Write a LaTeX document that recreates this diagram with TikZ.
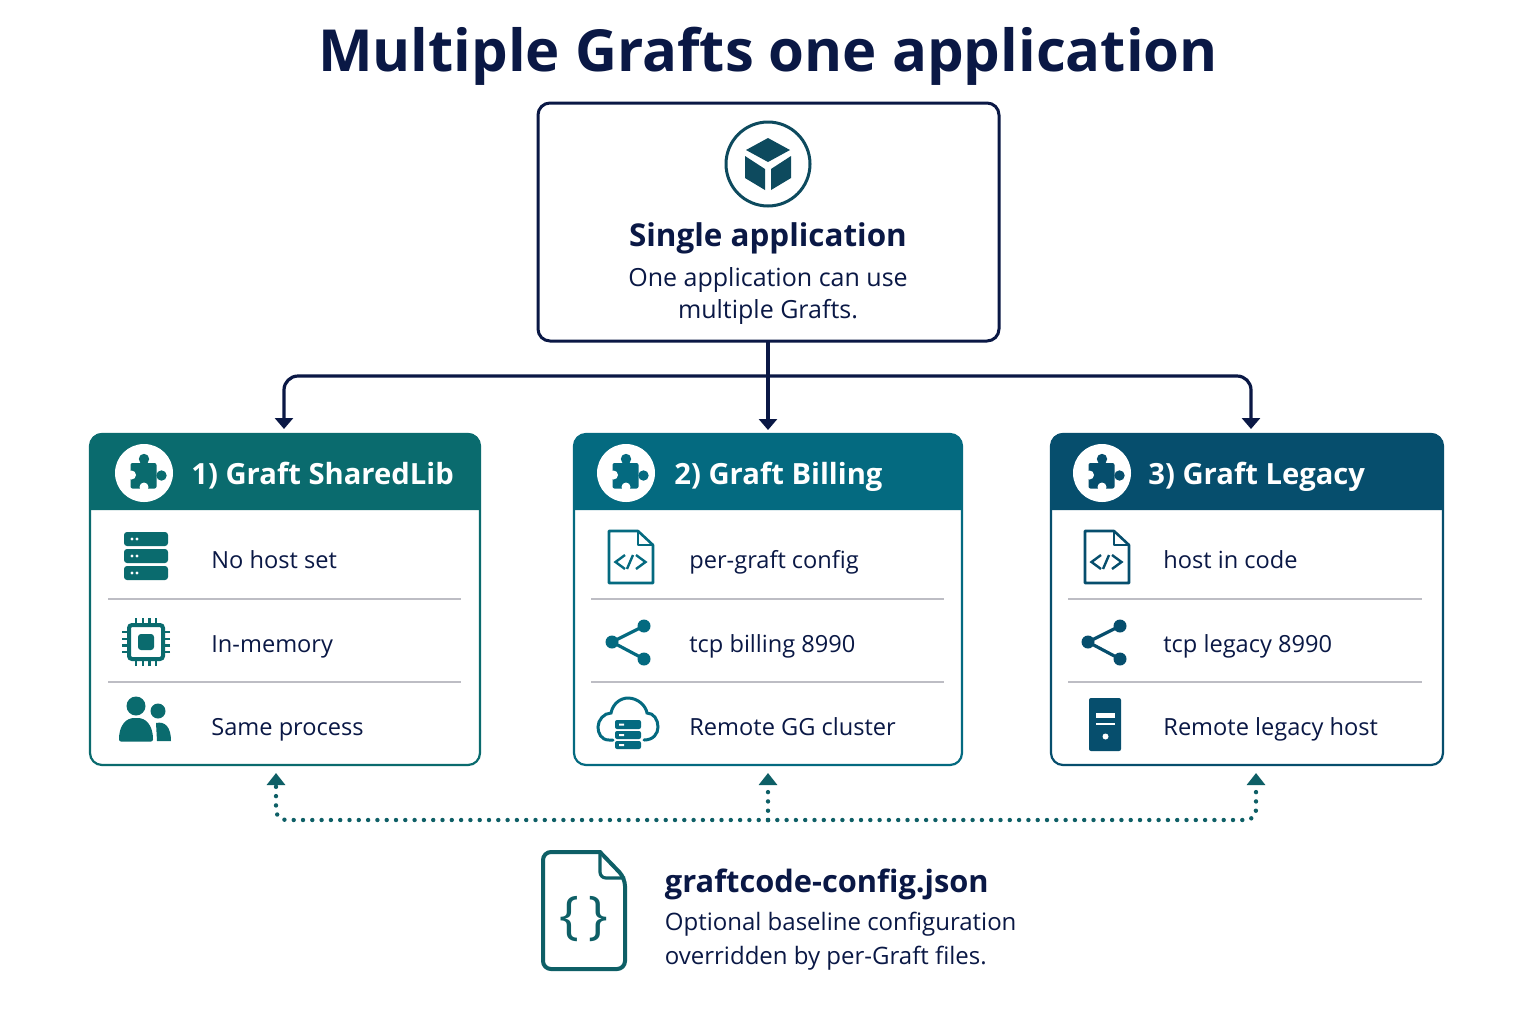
\documentclass[tikz,border=0pt]{standalone}
\usepackage{fontspec}
\setmainfont[Ligatures=NoCommon]{Open Sans}
\usetikzlibrary{arrows.meta,positioning}
\definecolor{navy}{HTML}{0A1845}
\definecolor{tealA}{HTML}{0A6B6E}
\definecolor{tealB}{HTML}{046A80}
\definecolor{tealC}{HTML}{064E6D}
\definecolor{cubeteal}{HTML}{0D4A5E}
\definecolor{jsonteal}{HTML}{0E5F66}
\definecolor{rowgrey}{HTML}{BDBDC4}
\colorlet{accent}{tealA}
\tikzset{
	titletext/.style={text=navy,font=\fontsize{29}{36}\selectfont\bfseries,anchor=base,inner sep=0pt},
	headtext/.style={text=navy,font=\fontsize{15.7}{20}\selectfont\bfseries,anchor=base,inner sep=0pt},
	subtext/.style={text=navy,font=\fontsize{12.5}{16}\selectfont,anchor=base,inner sep=0pt},
	cardtitle/.style={text=white,font=\fontsize{14.6}{19}\selectfont\bfseries,anchor=base west,inner sep=0pt},
	rowtext/.style={text=navy,font=\fontsize{11.8}{16}\selectfont,anchor=base west,inner sep=0pt},
	jsontitle/.style={text=navy,font=\fontsize{15.4}{20}\selectfont\bfseries,anchor=base west,inner sep=0pt},
	jsontext/.style={text=navy,font=\fontsize{12}{16}\selectfont,anchor=base west,inner sep=0pt},
	appbox/.style={draw=navy,line width=1.5pt,fill=white,rounded corners=6pt,minimum width=230.5pt,minimum height=119pt,outer sep=0pt},
	cardbox/.style={draw=#1,line width=1.1pt,fill=white,rounded corners=6pt,minimum height=165.5pt,outer sep=0pt},
	rowline/.style={draw=rowgrey,line width=.8pt},
	applink/.style={draw=navy,line width=1.6pt,rounded corners=7pt},
	apptip/.style={applink,-{Triangle[length=5.5pt,width=9pt]},shorten >=2pt},
	cfglink/.style={draw=jsonteal,line width=2.2pt,line cap=round,dash pattern=on 0pt off 4.65pt,rounded corners=5pt},
	cfgtip/.style={cfglink,-{Triangle[length=6pt,width=9pt]}},
	puzzleicon/.pic={
		\fill[white] (0,0) circle (29);
		\fill[accent,rounded corners=1pt] (-13.5,-10) rectangle (12.5,15.5);
		\fill[accent] (0,-14) circle (5.2);
		\fill[accent] (17.5,2.5) circle (5.2);
		\fill[white] (-12.5,2) circle (4.5);
		\fill[white] (0,14) circle (4.5);
	},
	servericon/.pic={
		\fill[accent,rounded corners=1.5pt] (-22,-24) rectangle (22,-10);
		\fill[accent,rounded corners=1.5pt] (-22,-7) rectangle (22,7);
		\fill[accent,rounded corners=1.5pt] (-22,10) rectangle (22,24);
		\fill[white] (-14,-17) circle (1.6) (-9,-17) circle (1.6) (-14,0) circle (1.6) (-9,0) circle (1.6) (-14,17) circle (1.6) (-9,17) circle (1.6);
	},
	chipicon/.pic={
		\draw[accent,line width=2pt,rounded corners=1.5pt] (-17,-17) rectangle (17,17);
		\fill[accent,rounded corners=1.5pt] (-8,-8) rectangle (8,8);
		\draw[accent,line width=1.2pt] (-10,-24) -- (-10,-17) (-3.3,-24) -- (-3.3,-17) (3.3,-24) -- (3.3,-17) (10,-24) -- (10,-17);
		\draw[accent,line width=1.2pt] (-10,24) -- (-10,17) (-3.3,24) -- (-3.3,17) (3.3,24) -- (3.3,17) (10,24) -- (10,17);
		\draw[accent,line width=1.2pt] (-24,-10) -- (-17,-10) (-24,-3.3) -- (-17,-3.3) (-24,3.3) -- (-17,3.3) (-24,10) -- (-17,10);
		\draw[accent,line width=1.2pt] (24,-10) -- (17,-10) (24,-3.3) -- (17,-3.3) (24,3.3) -- (17,3.3) (24,10) -- (17,10);
	},
	peopleicon/.pic={
		\fill[accent] (13,-10) circle (7.5);
		\fill[accent] (11,2) .. controls (20,0) and (26,6) .. (26,20) -- (12,20) -- cycle;
		\fill[white] (-9,-3) .. controls (2,-3) and (11,4) .. (11,22) -- (-9,22) -- cycle;
		\fill[accent] (-9,-15) circle (9.5);
		\fill[accent,rounded corners=1pt] (-26,20.5) .. controls (-26,3) and (-18,-3) .. (-9,-3) .. controls (0,-3) and (8,3) .. (8,20.5) -- cycle;
	},
	codeicon/.pic={
		\draw[accent,line width=1.3pt,line join=round] (-22,-26) -- (7,-26) -- (22,-12) -- (22,26) -- (-22,26) -- cycle;
		\draw[accent,line width=1.1pt,line join=round] (7,-26) -- (7,-12) -- (22,-12);
		\draw[accent,line width=1.2pt] (-6,-2) -- (-15.5,5) -- (-6,12);
		\draw[accent,line width=1.2pt] (2,-2) -- (-4,12);
		\draw[accent,line width=1.2pt] (5,-2) -- (14.5,5) -- (5,12);
	},
	shareicon/.pic={
		\draw[accent,line width=1.6pt] (16,-16) -- (-16,0) -- (16,17);
		\fill[accent] (-16,0) circle (6.5) (16,-16) circle (6.5) (16,17) circle (6.5);
	},
	cloudicon/.pic={
		\draw[accent,line width=1.5pt,line cap=round] (-15,20) -- (-19,20) .. controls (-27,20) and (-30,13) .. (-30,7) .. controls (-30,0) and (-24,-7) .. (-17,-7) .. controls (-15,-17) and (-7,-22) .. (0,-22) .. controls (10,-22) and (18,-14) .. (19,-7) .. controls (26,-7) and (30,0) .. (30,7) .. controls (30,14) and (25,20) .. (16,20);
		\fill[accent,rounded corners=1pt] (-13,0) rectangle (13,9);
		\fill[accent,rounded corners=1pt] (-13,11) rectangle (13,19);
		\fill[accent,rounded corners=1pt] (-13,21) rectangle (13,29);
		\fill[white] (-9,3.5) rectangle (-4,5.5) (-9,14) rectangle (-4,16) (-9,24) rectangle (-4,26);
	},
	towericon/.pic={
		\fill[accent,rounded corners=1pt] (-16,-26.5) rectangle (16,26.5);
		\fill[white] (-9,-11.5) rectangle (10,-7);
		\fill[white] (-9,-2) rectangle (10,0);
		\fill[white] (0.5,12) circle (3);
	}
}
\begin{document}
\begin{tikzpicture}[x=.5pt,y=-.5pt]
	\useasboundingbox (0,0) rectangle (1536,1024);
	\fill[white] (0,0) rectangle (1536,1024);

	\node[titletext] (title) at (768,71) {Multiple Grafts one application};

	\node[appbox] (app) at (768.5,222) {};
	\node[circle,draw=cubeteal,line width=1.5pt,minimum size=42pt,inner sep=0pt] (cube) at (768,164) {};
	\fill[cubeteal] (768,138) -- (790,150) -- (768,162) -- (746,150) -- cycle;
	\fill[cubeteal] (745,156) -- (765,169) -- (765,190) -- (745,178) -- cycle;
	\fill[cubeteal] (791,156) -- (771,169) -- (771,190) -- (791,178) -- cycle;
	\node[headtext] (apphead) at (768,246) {Single application};
	\node[subtext] (appsubA) at (768,286) {One application can use};
	\node[subtext] (appsubB) at (768,318) {multiple Grafts.};

	\node[cardbox=tealA,minimum width=195pt] (card1) at (285,599.5) {};
	\node[cardbox=tealB,minimum width=194pt] (card2) at (768,599.5) {};
	\node[cardbox=tealC,minimum width=196pt] (card3) at (1247,599.5) {};
	\fill[tealA] (90,510) [rounded corners=6pt] -- (90,433) -- (480,433) [sharp corners] -- (480,510) -- cycle;
	\fill[tealB] (574,510) [rounded corners=6pt] -- (574,434) -- (962,434) [sharp corners] -- (962,510) -- cycle;
	\fill[tealC] (1051,510) [rounded corners=6pt] -- (1051,433) -- (1443,433) [sharp corners] -- (1443,510) -- cycle;

	\coordinate (busTop) at (768,376);
	\coordinate (stemTop) at (768,341);
	\coordinate (tipL) at (284,433);
	\coordinate (tipC) at (1251,433);
	\draw[applink] (stemTop) -- (busTop);
	\draw[apptip] (busTop) -- (card2.north);
	\draw[apptip] (busTop) -| (tipL);
	\draw[apptip] (busTop) -| (tipC);

	\begin{scope}
		\colorlet{accent}{tealA}
		\pic at (144,473) {puzzleicon};
		\pic at (146,556) {servericon};
		\pic at (146,642) {chipicon};
		\pic at (145,721) {peopleicon};
	\end{scope}
	\node[cardtitle] (titleA) at (191,484) {1) Graft SharedLib};
	\node[rowtext] (rowAa) at (211,568) {No host set};
	\node[rowtext] (rowAb) at (211,652) {In-memory};
	\node[rowtext] (rowAc) at (211,735) {Same process};
	\draw[rowline] (108,599) -- (461,599);
	\draw[rowline] (108,682) -- (461,682);

	\begin{scope}
		\colorlet{accent}{tealB}
		\pic at (626,473) {puzzleicon};
		\pic at (631,557) {codeicon};
		\pic at (628,642) {shareicon};
		\pic at (628,720) {cloudicon};
	\end{scope}
	\node[cardtitle] (titleB) at (674,484) {2) Graft Billing};
	\node[rowtext] (rowBa) at (689,568) {per-graft config};
	\node[rowtext] (rowBb) at (689,652) {tcp billing 8990};
	\node[rowtext] (rowBc) at (689,735) {Remote GG cluster};
	\draw[rowline] (591,599) -- (944,599);
	\draw[rowline] (591,682) -- (944,682);

	\begin{scope}
		\colorlet{accent}{tealC}
		\pic at (1102,473) {puzzleicon};
		\pic at (1107,557) {codeicon};
		\pic at (1104,642) {shareicon};
		\pic at (1105,724.5) {towericon};
	\end{scope}
	\node[cardtitle] (titleC) at (1148,484) {3) Graft Legacy};
	\node[rowtext] (rowCa) at (1163,568) {host in code};
	\node[rowtext] (rowCb) at (1163,652) {tcp legacy 8990};
	\node[rowtext] (rowCc) at (1163,735) {Remote legacy host};
	\draw[rowline] (1068,599) -- (1422,599);
	\draw[rowline] (1068,682) -- (1422,682);

	\coordinate (busLow) at (768,820);
	\coordinate (tipA) at (276,773);
	\coordinate (tipB) at (768,773);
	\coordinate (tipD) at (1256,773);
	\draw[cfgtip] (busLow) -- (tipB);
	\draw[cfgtip] (busLow) -| (tipA);
	\draw[cfgtip] (busLow) -| (tipD);

	\draw[jsonteal,line width=2pt,rounded corners=4pt] (570,852) -- (543,852) -- (543,969) -- (625,969) -- (625,878) [sharp corners] -- (600,852) -- (570,852);
	\draw[jsonteal,line width=1.6pt,rounded corners=3pt] (600,852) -- (600,878) -- (625,878);
	\node[text=jsonteal,font=\fontsize{26}{30}\selectfont,inner sep=0pt] (braces) at (584,919) {\{\,\}};
	\node[jsontitle] (jsonhead) at (664.5,892) {graftcode-config.json};
	\node[jsontext] (jsonsubA) at (664.5,930) {Optional baseline configuration};
	\node[jsontext] (jsonsubB) at (664.5,964) {overridden by per-Graft files.};
\end{tikzpicture}
\end{document}
